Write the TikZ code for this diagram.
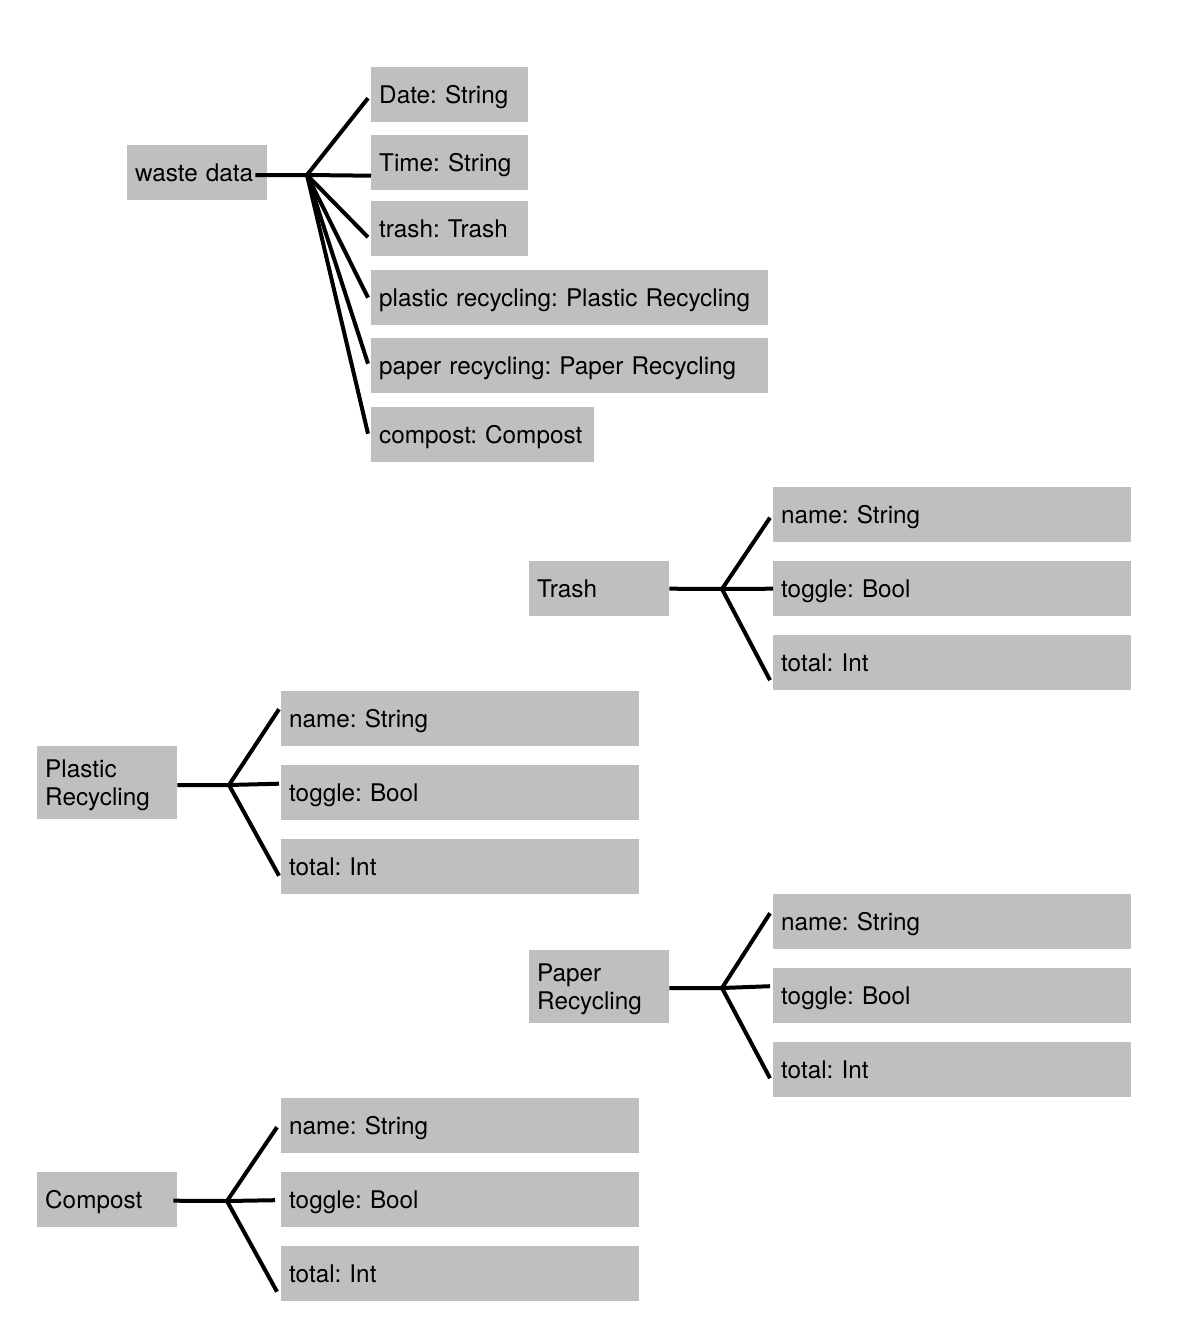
\documentclass[tikz,border=0pt]{standalone}
\usepackage{fontspec}
\setmainfont{TeX Gyre Heros}
\definecolor{boxgray}{RGB}{191,191,191}
\begin{document}
\begin{tikzpicture}[x=1pt,y=-1pt,
  box/.style={fill=boxgray, anchor=north west, inner xsep=8pt, inner ysep=0pt,
    align=left, text depth=0pt, font=\frenchspacing\fontsize{24.3}{28}\selectfont, minimum height=55pt},
  twoline/.style={minimum height=73pt, text depth=28pt},
  conn/.style={line width=4pt, black}]
\useasboundingbox (0,0) rectangle (1184,1324);
% ---------- waste data ----------
\node[box, text width=124pt] (waste) at (127,145) {waste data};
\node[box, text width=141pt] (date) at (371,67) {Date: String};
\node[box, text width=141pt] (time) at (371,135) {Time: String};
\node[box, text width=141pt] (trashf) at (371,201) {trash: Trash};
\node[box, text width=381pt] (plasticf) at (371,270) {plastic recycling: Plastic Recycling};
\node[box, text width=381pt] (paperf) at (371,338) {paper recycling: Paper Recycling};
\node[box, text width=207pt] (compostf) at (371,407) {compost: Compost};
\coordinate (hw) at (307,175);
\draw[conn] ([xshift=-12pt,yshift=-2.5pt]waste.east) -- (hw);
\draw[conn] (hw) -- ([xshift=-3pt,yshift=-3.5pt]date.west);
\draw[conn] (hw) -- ([xshift=0pt,yshift=-13pt]time.west);
\draw[conn] (hw) -- ([xshift=-3pt,yshift=-8.5pt]trashf.west);
\draw[conn] (hw) -- ([xshift=-3pt,yshift=0pt]plasticf.west);
\draw[conn] (hw) -- ([xshift=-3pt,yshift=2pt]paperf.west);
\draw[conn] (hw) -- ([xshift=-3pt,yshift=1pt]compostf.west);
% ---------- Trash ----------
\node[box, text width=124pt] (trash) at (529,561) {Trash};
\node[box, text width=342pt] (tname) at (773,487) {name: String};
\node[box, text width=342pt] (ttoggle) at (773,561) {toggle: Bool};
\node[box, text width=342pt] (ttotal) at (773,635) {total: Int};
\coordinate (ht) at (722,589);
\draw[conn] (trash.east) -- (ht);
\draw[conn] (ht) -- ([xshift=-3pt,yshift=-3pt]tname.west);
\draw[conn] (ht) -- ([xshift=0pt,yshift=0pt]ttoggle.west);
\draw[conn] (ht) -- ([xshift=-3pt,yshift=-17.5pt]ttotal.west);
% ---------- Plastic Recycling ----------
\node[box, twoline, text width=124pt] (plastic) at (37,746) {Plastic\\Recycling};
\node[box, text width=342pt] (pname) at (281,691) {name: String};
\node[box, text width=342pt] (ptoggle) at (281,765) {toggle: Bool};
\node[box, text width=342pt] (ptotal) at (281,839) {total: Int};
\coordinate (hp) at (229,785);
\draw[conn] ([yshift=-2.5pt]plastic.east) -- (hp);
\draw[conn] (hp) -- ([xshift=-2pt,yshift=9.5pt]pname.west);
\draw[conn] (hp) -- ([xshift=-2pt,yshift=9pt]ptoggle.west);
\draw[conn] (hp) -- ([xshift=-2pt,yshift=-9pt]ptotal.west);
% ---------- Paper Recycling ----------
\node[box, twoline, text width=124pt] (paper) at (529,950) {Paper\\Recycling};
\node[box, text width=342pt] (rname) at (773,894) {name: String};
\node[box, text width=342pt] (rtoggle) at (773,968) {toggle: Bool};
\node[box, text width=342pt] (rtotal) at (773,1042) {total: Int};
\coordinate (hr) at (722,988);
\draw[conn] ([yshift=-1.5pt]paper.east) -- (hr);
\draw[conn] (hr) -- ([xshift=-3pt,yshift=8.5pt]rname.west);
\draw[conn] (hr) -- ([xshift=-3pt,yshift=9.5pt]rtoggle.west);
\draw[conn] (hr) -- ([xshift=-3pt,yshift=-8.5pt]rtotal.west);
% ---------- Compost ----------
\node[box, text width=124pt] (compost) at (37,1172) {Compost};
\node[box, text width=342pt] (cname) at (281,1098) {name: String};
\node[box, text width=342pt] (ctoggle) at (281,1172) {toggle: Bool};
\node[box, text width=342pt] (ctotal) at (281,1246) {total: Int};
\coordinate (hc) at (227,1201);
\draw[conn] ([xshift=-4pt,yshift=-1pt]compost.east) -- (hc);
\draw[conn] (hc) -- ([xshift=-4pt,yshift=-1.5pt]cname.west);
\draw[conn] (hc) -- ([xshift=-6pt,yshift=-0.5pt]ctoggle.west);
\draw[conn] (hc) -- ([xshift=-4pt,yshift=-18pt]ctotal.west);
\end{tikzpicture}
\end{document}
